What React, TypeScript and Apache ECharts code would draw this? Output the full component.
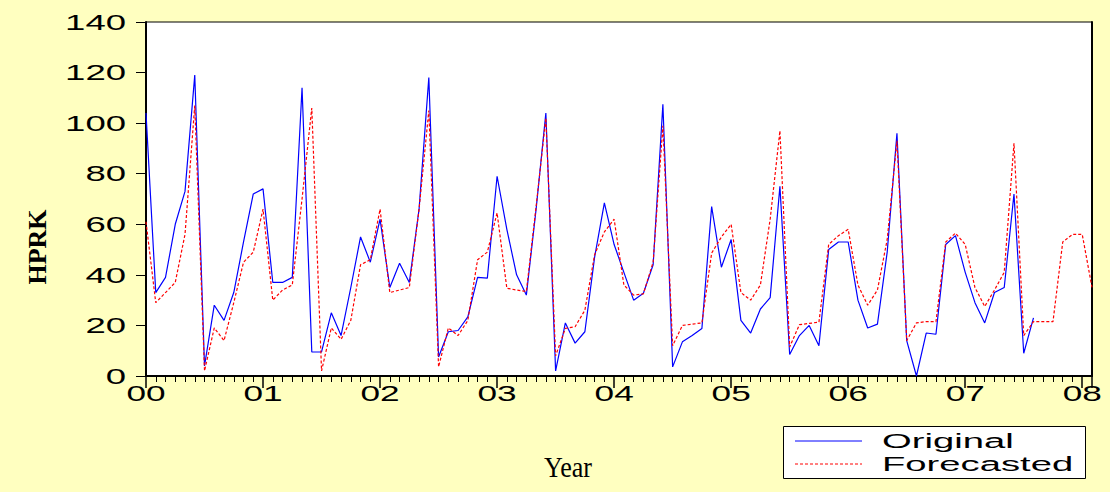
import React, { useEffect, useRef } from 'react';
import * as echarts from 'echarts';

const yearLabels = ['00', '01', '02', '03', '04', '05', '06', '07', '08'];
const yTickValues = [0, 20, 40, 60, 80, 100, 120, 140];
const lastIndex = 97;

const original = [
  104, 33, 39, 60, 73, 119, 4, 28, 22, 33, 53, 72,
  74, 37, 37, 39, 114, 9.5, 9.5, 25, 16, 35, 55, 45,
  62, 35, 44.6, 37, 66, 118, 7.5, 17.5, 18, 23.4, 39, 38.7,
  79, 58, 40, 32, 66, 104, 2, 21, 13, 17.5, 47, 68.5,
  52, 41, 30, 32.7, 44, 107.5, 3.6, 13.5, 16, 18.8, 67, 43,
  54, 22, 17, 26.5, 31, 75, 8.5, 16, 20, 12, 50, 53,
  53, 30, 19, 20.5, 49, 96, 14, 0, 17, 16.5, 52, 55.5,
  41, 29, 21, 33, 35, 72, 9, 23,
];

const forecasted = [
  61, 29, 33, 37, 56, 107, 2, 19, 14, 29, 45, 49,
  66, 30, 34, 36, 70, 106, 2, 19, 14.5, 22, 44, 46,
  66, 33, 34, 35, 66, 105, 3.6, 19, 16, 22, 46, 49,
  64.5, 34.7, 34, 33.4, 67, 102, 8, 18.8, 19.5, 26, 48, 57,
  62, 36, 32, 32.5, 45, 99, 12, 20, 20.5, 21, 48.6, 55,
  60, 33, 30, 36, 62, 97, 11.5, 20.3, 20.8, 21.3, 52, 55.5,
  58, 36, 28, 34, 54, 93, 14, 21, 21.5, 21.5, 53, 56.5,
  52, 35, 27.5, 34, 41, 92, 16, 21.5, 21.5, 21.5, 53, 56,
  56, 35,
];

const seriesNames = ['Original', 'Forecasted'];

export default function App() {
  const ref = useRef<HTMLDivElement>(null);

  useEffect(() => {
    const el = ref.current;
    if (!el) return;
    const chart = echarts.init(el, null, { renderer: 'svg' });
    const option: any = {
      animation: false,
      backgroundColor: '#FFFFC0',
      grid: {
        left: 146,
        top: 22,
        width: 946,
        height: 354,
        show: true,
        backgroundColor: '#FFFFFF',
        borderColor: '#000000',
        borderWidth: 1,
      },
      xAxis: {
        type: 'value',
        min: 0,
        max: lastIndex,
        interval: 12,
        axisLine: { show: true, onZero: false, lineStyle: { color: '#000', width: 2 } },
        axisTick: { show: true, length: 12, lineStyle: { color: '#000', width: 1.5 } },
        minorTick: { show: true, splitNumber: 12, length: 6, lineStyle: { color: '#000', width: 1 } },
        axisLabel: { show: false },
        splitLine: { show: false },
        minorSplitLine: { show: false },
      },
      yAxis: [
        {
          type: 'value',
          min: 0,
          max: 140,
          interval: 20,
          axisLine: { show: true, lineStyle: { color: '#000', width: 2 } },
          axisTick: { show: true, length: 10, lineStyle: { color: '#000', width: 1 } },
          axisLabel: { show: false },
          splitLine: { show: false },
        },
        {
          type: 'value',
          position: 'right',
          min: 0,
          max: 140,
          interval: 20,
          axisLine: { show: true, lineStyle: { color: '#000', width: 2 } },
          axisTick: { show: false },
          axisLabel: { show: false },
          splitLine: { show: false },
        },
      ],
      series: [
        {
          name: seriesNames[0],
          type: 'line',
          data: original.map((v, i) => [i, v]),
          symbol: 'none',
          showSymbol: false,
          lineStyle: { color: '#0000FF', width: 1.2 },
          itemStyle: { color: '#0000FF' },
          z: 2,
        },
        {
          name: seriesNames[1],
          type: 'line',
          data: forecasted.map((v, i) => [i, v]),
          symbol: 'none',
          showSymbol: false,
          lineStyle: { color: '#FF0000', width: 1.2, type: [3, 2] },
          itemStyle: { color: '#FF0000' },
          z: 3,
        },
      ],
    };
    chart.setOption(option);

    const labelFont = '22px "Liberation Sans", Arial, sans-serif';
    const g: any[] = [];
    const x0 = chart.convertToPixel({ xAxisIndex: 0 }, 0) as number;
    const yBottom = chart.convertToPixel({ yAxisIndex: 0 }, 0) as number;
    yTickValues.forEach((v) => {
      const py = chart.convertToPixel({ yAxisIndex: 0 }, v) as number;
      g.push({
        type: 'text',
        x: x0 - 20,
        y: py,
        scaleX: 1.66,
        style: {
          text: String(v),
          font: labelFont,
          fill: '#000',
          align: 'right',
          textAlign: 'right',
          verticalAlign: 'middle',
          textVerticalAlign: 'middle',
        },
      });
    });
    yearLabels.forEach((lab, k) => {
      const px = chart.convertToPixel({ xAxisIndex: 0 }, k * 12) as number;
      g.push({
        type: 'text',
        x: px,
        y: yBottom + 17,
        scaleX: 1.6,
        style: {
          text: lab,
          font: labelFont,
          fill: '#000',
          align: 'center',
          textAlign: 'center',
          verticalAlign: 'middle',
          textVerticalAlign: 'middle',
        },
      });
    });
    // axis titles
    g.push({
      type: 'text',
      x: 568,
      y: 467,
      scaleX: 0.9,
      style: {
        text: 'Year',
        font: '29px "Liberation Serif", "Times New Roman", serif',
        fill: '#000',
        align: 'center',
        textAlign: 'center',
        verticalAlign: 'middle',
        textVerticalAlign: 'middle',
      },
    });
    g.push({
      type: 'text',
      x: 37,
      y: 247,
      rotation: Math.PI / 2,
      style: {
        text: 'HPRK',
        font: 'bold 26px "Liberation Serif", "Times New Roman", serif',
        fill: '#000',
        align: 'center',
        textAlign: 'center',
        verticalAlign: 'middle',
        textVerticalAlign: 'middle',
      },
    });
    // legend
    g.push({
      type: 'rect',
      shape: { x: 783.5, y: 426.5, width: 302, height: 52 },
      style: { fill: '#FFFFFF', stroke: '#000', lineWidth: 1 },
    });
    g.push({
      type: 'line',
      shape: { x1: 795, y1: 441, x2: 862, y2: 441 },
      style: { stroke: '#0000FF', lineWidth: 1 },
    });
    g.push({
      type: 'line',
      shape: { x1: 795, y1: 464, x2: 862, y2: 464 },
      style: { stroke: '#FF0000', lineWidth: 1, lineDash: [3, 2] },
    });
    seriesNames.forEach((name, k) => {
      g.push({
        type: 'text',
        x: 882,
        y: 441 + k * 23,
        scaleX: 1.82,
        style: {
          text: name,
          font: '21px "Liberation Sans", Arial, sans-serif',
          fill: '#000',
          align: 'left',
          textAlign: 'left',
          verticalAlign: 'middle',
          textVerticalAlign: 'middle',
        },
      });
    });
    chart.setOption({ graphic: { elements: g } });

    return () => {
      chart.dispose();
    };
  }, []);

  return (
    <div
      ref={ref}
      style={{ position: 'fixed', left: 0, top: 0, width: 1110, height: 492 }}
    />
  );
}
